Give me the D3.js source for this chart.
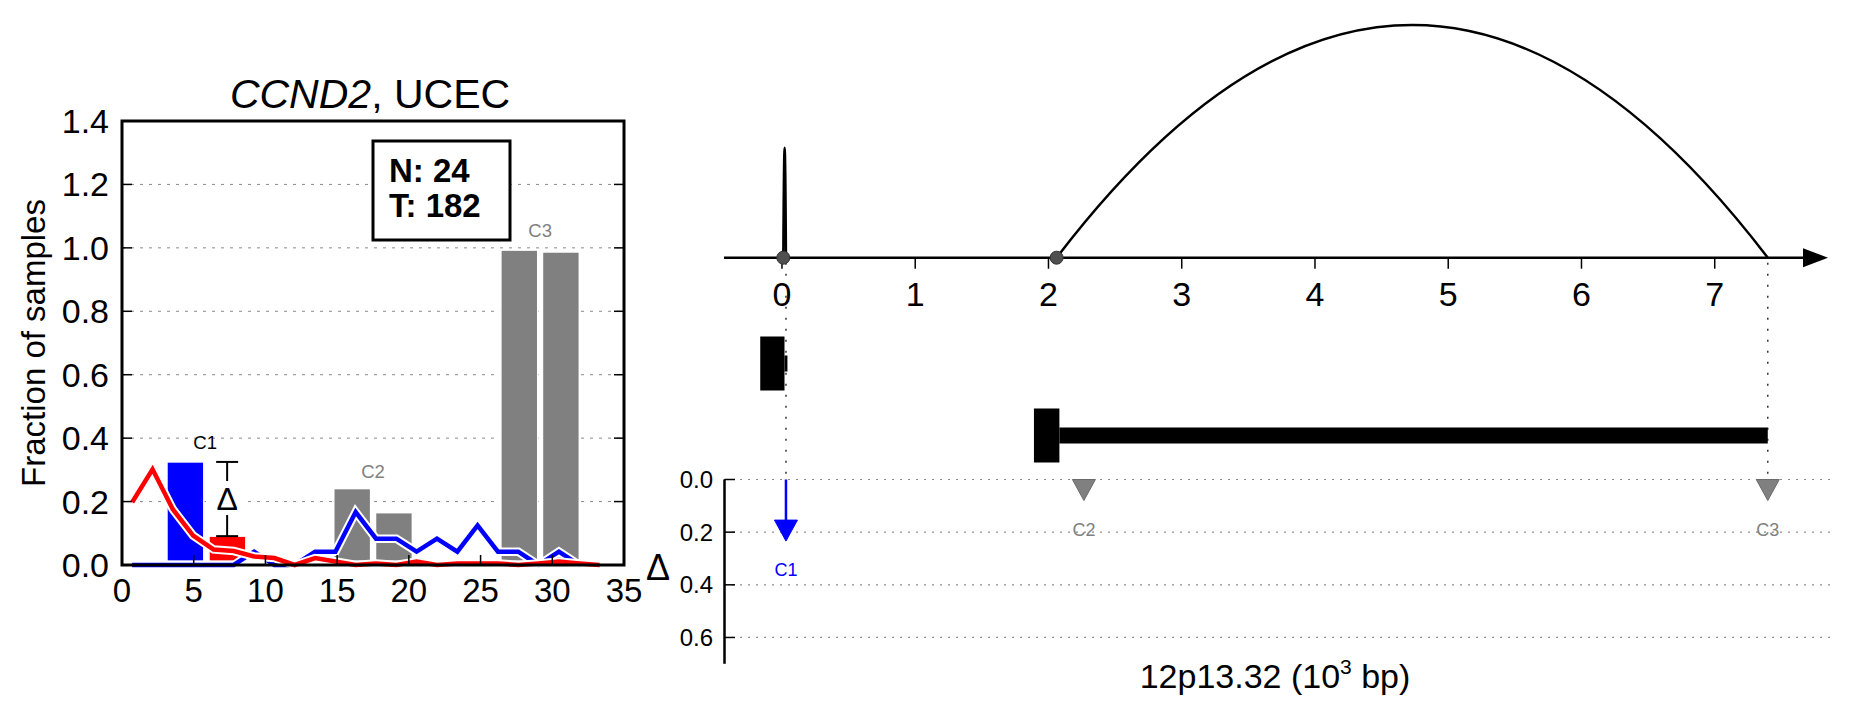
<!DOCTYPE html>
<html><head><meta charset="utf-8">
<script src="https://cdn.jsdelivr.net/npm/d3@7"></script>
<style>
body{margin:0;background:#fff}
svg{display:block;font-family:"Liberation Sans",Arial,Helvetica,sans-serif}
</style>
</head><body>
<svg id="chart" width="1851" height="718"></svg>
<script>
// ---------------- Left panel data ----------------
const binCenters = [0.71,2.13,3.54,4.96,6.38,7.79,9.21,10.63,12.04,13.46,14.88,16.29,17.71,19.13,20.54,21.96,23.38,24.79,26.21,27.63,29.04,30.46,31.88,33.29];
const normalFraction = [0,0,0,0,0,0,0.042,0,0,0.042,0.042,0.167,0.083,0.083,0.042,0.083,0.042,0.125,0.042,0.042,0,0.042,0,0];
const tumorFraction = [0.198,0.302,0.176,0.093,0.049,0.044,0.027,0.022,0,0.022,0.011,0,0.005,0,0.011,0,0.005,0.005,0.005,0,0.005,0.011,0.005,0];
const barCenters = [4.42,7.35,16.05,18.96,27.7,30.6];
const barValues = [0.325,0.091,0.241,0.165,0.993,0.987];
const barColors = ["#0000ff","#ff0000","#808080","#808080","#808080","#808080"];
const barWidth = 2.57;
const barBase = 0.012;
const clusterNames = ["C1","C2","C3"];
const clusterLabelX = [5.8,17.5,29.15];
const clusterLabelY = [0.385,0.295,1.055];
const clusterLabelColors = ["#000000","#808080","#808080"];
const deltaBarX = 7.33;
const deltaBarLow = 0.091, deltaBarHigh = 0.325;
const xTicksLeft = [0,5,10,15,20,25,30,35];
const yTicksLeft = [0,0.2,0.4,0.6,0.8,1.0,1.2,1.4];
const yGridLeft = [0.2,0.4,0.6,0.8,1.0,1.2];
const boxLines = ["N: 24","T: 182"];

// ---------------- Right panel data ----------------
const genomicTicks = [0,1,2,3,4,5,6,7];
const arcStarts = [0.01, 2.061];
const arcEnds = [0.03, 7.398];
const arcHeights = [0.472, 1.0];
const exonStarts = [-0.163, 1.891];
const exonEnds = [0.019, 2.082];
const bodyEnds = [0.041, 7.398];
const clusterPositions = [0.03, 2.266, 7.398];
const clusterDelta = [0.234, 0.076, 0.007];
const clusterSignificant = [true, false, false];
const deltaTicks = [0,0.2,0.4,0.6];

const svg = d3.select("#chart");

// ================= LEFT PANEL =================
const xL = d3.scaleLinear().domain([0,35]).range([122,624]);
const yL = d3.scaleLinear().domain([0,1.4]).range([565,121]);

// title
const title = svg.append("text").attr("x", 370).attr("y", 108)
  .attr("text-anchor","middle").attr("font-size", 41).attr("fill","#000");
title.append("tspan").attr("font-style","italic").text("CCND2");
title.append("tspan").text(", UCEC");

// grid
svg.append("g").selectAll("line").data(yGridLeft).join("line")
  .attr("x1", xL(0)).attr("x2", xL(35))
  .attr("y1", d=>yL(d)).attr("y2", d=>yL(d))
  .attr("stroke","#8a8a8a").attr("stroke-width",1).attr("stroke-dasharray","3,6");

// bars
svg.append("g").selectAll("rect").data(barCenters).join("rect")
  .attr("x", d=>xL(d - barWidth/2))
  .attr("width", xL(barWidth) - xL(0))
  .attr("y", (d,i)=>yL(barValues[i]))
  .attr("height", (d,i)=>yL(barBase) - yL(barValues[i]))
  .attr("fill", (d,i)=>barColors[i])
  .attr("stroke","#ffffff").attr("stroke-width",1.5);

// lines
const lineGen = d3.line().x(d=>xL(d[0])).y(d=>yL(d[1]));
function drawSeries(vals, color){
  const pts = binCenters.map((x,i)=>[x, vals[i]]);
  svg.append("path").attr("d", lineGen(pts)).attr("fill","none")
    .attr("stroke","#ffffff").attr("stroke-width",8.5).attr("stroke-linejoin","miter");
  svg.append("path").attr("d", lineGen(pts)).attr("fill","none")
    .attr("stroke",color).attr("stroke-width",4.5).attr("stroke-linejoin","miter");
}
drawSeries(normalFraction, "#0000ff");
drawSeries(tumorFraction, "#ff0000");

// delta error bar
const ex = xL(deltaBarX);
const eg = svg.append("g").attr("stroke","#000").attr("stroke-width",2);
eg.append("line").attr("x1",ex).attr("x2",ex).attr("y1",yL(deltaBarHigh)).attr("y2",yL(deltaBarLow));
eg.append("line").attr("x1",ex-11).attr("x2",ex+11).attr("y1",yL(deltaBarHigh)).attr("y2",yL(deltaBarHigh));
eg.append("line").attr("x1",ex-11).attr("x2",ex+11).attr("y1",yL(deltaBarLow)).attr("y2",yL(deltaBarLow));
const ey = (yL(deltaBarHigh)+yL(deltaBarLow))/2;
svg.append("rect").attr("x",ex-15).attr("y",ey-18).attr("width",30).attr("height",34).attr("fill","#fff");
svg.append("text").attr("x",ex).attr("y",ey+11).attr("text-anchor","middle")
  .attr("font-size",32).text("Δ");

// cluster labels
svg.append("g").selectAll("text").data(clusterNames).join("text")
  .attr("x",(d,i)=>xL(clusterLabelX[i])).attr("y",(d,i)=>yL(clusterLabelY[i]))
  .attr("text-anchor","middle").attr("dominant-baseline","central")
  .attr("font-size",18.5).attr("fill",(d,i)=>clusterLabelColors[i]).text(d=>d);

// N/T box
svg.append("rect").attr("x",373).attr("y",141).attr("width",137).attr("height",99)
  .attr("fill","#fff").attr("stroke","#000").attr("stroke-width",3);
svg.append("g").selectAll("text").data(boxLines).join("text")
  .attr("x",389).attr("y",(d,i)=>182+i*35)
  .attr("font-size",33).attr("font-weight","bold").text(d=>d);

// frame
svg.append("rect").attr("x",xL(0)).attr("y",yL(1.4)).attr("width",xL(35)-xL(0))
  .attr("height",yL(0)-yL(1.4)).attr("fill","none").attr("stroke","#000").attr("stroke-width",3);

// ticks (inward)
const tg = svg.append("g").attr("stroke","#000").attr("stroke-width",1.5);
tg.selectAll(".yl").data(yTicksLeft).join("line").attr("class","yl")
  .attr("x1",xL(0)).attr("x2",xL(0)+10).attr("y1",d=>yL(d)).attr("y2",d=>yL(d));
tg.selectAll(".yr").data(yTicksLeft).join("line").attr("class","yr")
  .attr("x1",xL(35)).attr("x2",xL(35)-10).attr("y1",d=>yL(d)).attr("y2",d=>yL(d));
tg.selectAll(".xb").data(xTicksLeft).join("line").attr("class","xb")
  .attr("x1",d=>xL(d)).attr("x2",d=>xL(d)).attr("y1",yL(0)).attr("y2",yL(0)-10);

// tick labels
svg.append("g").selectAll("text").data(yTicksLeft).join("text")
  .attr("x",109).attr("y",d=>yL(d)).attr("text-anchor","end").attr("dominant-baseline","central")
  .attr("font-size",34).text(d=>d.toFixed(1));
svg.append("g").selectAll("text").data(xTicksLeft).join("text")
  .attr("x",d=>xL(d)).attr("y",602).attr("text-anchor","middle")
  .attr("font-size",33).text(d=>d);

// y label
svg.append("text").attr("transform",`translate(45,${(yL(0)+yL(1.4))/2}) rotate(-90)`)
  .attr("text-anchor","middle").attr("font-size",33).text("Fraction of samples");

// ================= RIGHT PANEL =================
const xG = d3.scaleLinear().domain([-0.435,7.85]).range([724,1828]);
const yArc = d3.scaleLinear().domain([0,1]).range([257.7,25]);
const yD = d3.scaleLinear().domain([0,0.7]).range([479.5,663.8]);

// delta gridlines
svg.append("g").selectAll("line").data(deltaTicks).join("line")
  .attr("x1",xG.range()[0]).attr("x2",1830)
  .attr("y1",d=>yD(d)).attr("y2",d=>yD(d))
  .attr("stroke","#8a8a8a").attr("stroke-width",1.2).attr("stroke-dasharray","2,6");

// dotted verticals at arc ends
svg.append("g").selectAll("line").data(arcEnds).join("line")
  .attr("x1",d=>xG(d)).attr("x2",d=>xG(d)).attr("y1",yArc(0)+5).attr("y2",yD(0))
  .attr("stroke","#333").attr("stroke-width",1.5).attr("stroke-dasharray","2,9");

// genomic axis
svg.append("line").attr("x1",xG.range()[0]).attr("x2",1806).attr("y1",yArc(0)).attr("y2",yArc(0))
  .attr("stroke","#000").attr("stroke-width",2.5);
svg.append("path").attr("d",`M1803,${yArc(0)-9.5}L1828,${yArc(0)}L1803,${yArc(0)+9.5}Z`).attr("fill","#000");
svg.append("g").selectAll("line").data(genomicTicks).join("line")
  .attr("x1",d=>xG(d)).attr("x2",d=>xG(d)).attr("y1",yArc(0)).attr("y2",yArc(0)+11)
  .attr("stroke","#000").attr("stroke-width",1.5);
svg.append("g").selectAll("text").data(genomicTicks).join("text")
  .attr("x",d=>xG(d)).attr("y",306).attr("text-anchor","middle")
  .attr("font-size",34).text(d=>d);

// arcs
arcStarts.forEach((s,i)=>{
  const p = d3.path();
  const x0 = xG(s), x1 = xG(arcEnds[i]);
  const y0 = yArc(0), ctrlY = y0 - 2*(y0 - yArc(arcHeights[i]));
  p.moveTo(x0,y0); p.quadraticCurveTo((x0+x1)/2, ctrlY, x1, y0);
  svg.append("path").attr("d",p.toString()).attr("fill","none")
    .attr("stroke","#000").attr("stroke-width",2.5);
});
svg.append("g").selectAll("circle").data(arcStarts).join("circle")
  .attr("cx",d=>xG(d)).attr("cy",yArc(0)).attr("r",6.5)
  .attr("fill","#505050").attr("stroke","#333").attr("stroke-width",1);

// gene model
const rowCenters = [363.5, 435.5];
const exonH = 54, bodyH = 16;
exonStarts.forEach((s,i)=>{
  svg.append("rect").attr("x",xG(exonEnds[i])).attr("width",xG(bodyEnds[i])-xG(exonEnds[i]))
    .attr("y",rowCenters[i]-bodyH/2).attr("height",bodyH).attr("fill","#000");
  svg.append("rect").attr("x",xG(s)).attr("width",xG(exonEnds[i])-xG(s))
    .attr("y",rowCenters[i]-exonH/2).attr("height",exonH).attr("fill","#000");
});

// delta axis
svg.append("line").attr("x1",724.5).attr("x2",724.5).attr("y1",yD(0)).attr("y2",yD(0.7))
  .attr("stroke","#000").attr("stroke-width",2.5);
svg.append("g").selectAll("line").data(deltaTicks).join("line")
  .attr("x1",724.5).attr("x2",735).attr("y1",d=>yD(d)).attr("y2",d=>yD(d))
  .attr("stroke","#000").attr("stroke-width",1.5);
svg.append("g").selectAll("text").data(deltaTicks).join("text")
  .attr("x",713).attr("y",d=>yD(d)).attr("text-anchor","end").attr("dominant-baseline","central")
  .attr("font-size",24).text(d=>d.toFixed(1));
svg.append("text").attr("x",658).attr("y",580).attr("text-anchor","middle")
  .attr("font-size",36).text("Δ");

// delta arrows
const headL = 21, headW = 23;
clusterPositions.forEach((p,i)=>{
  const x = xG(p), y0 = yD(0);
  const tip = Math.max(yD(clusterDelta[i]), y0 + headL);
  const col = clusterSignificant[i] ? "#0000ff" : "#808080";
  if (tip - headL > y0) {
    svg.append("line").attr("x1",x).attr("x2",x).attr("y1",y0).attr("y2",tip-headL+1)
      .attr("stroke",col).attr("stroke-width",2.5);
  }
  svg.append("path").attr("d",`M${x-headW/2},${tip-headL}L${x+headW/2},${tip-headL}L${x},${tip}Z`)
    .attr("fill",col).attr("stroke",clusterSignificant[i]?col:"#6a6a6a").attr("stroke-width",1);
  svg.append("text").attr("x",x).attr("y",tip+29).attr("text-anchor","middle")
    .attr("dominant-baseline","central").attr("font-size",18).attr("fill",col).text(clusterNames[i]);
});

// bottom label
const bl = svg.append("text").attr("x",1275).attr("y",688).attr("text-anchor","middle").attr("font-size",34);
bl.append("tspan").text("12p13.32 (10");
bl.append("tspan").attr("font-size",21).attr("dy",-14).text("3");
bl.append("tspan").attr("dy",14).text(" bp)");
</script>
</body></html>
